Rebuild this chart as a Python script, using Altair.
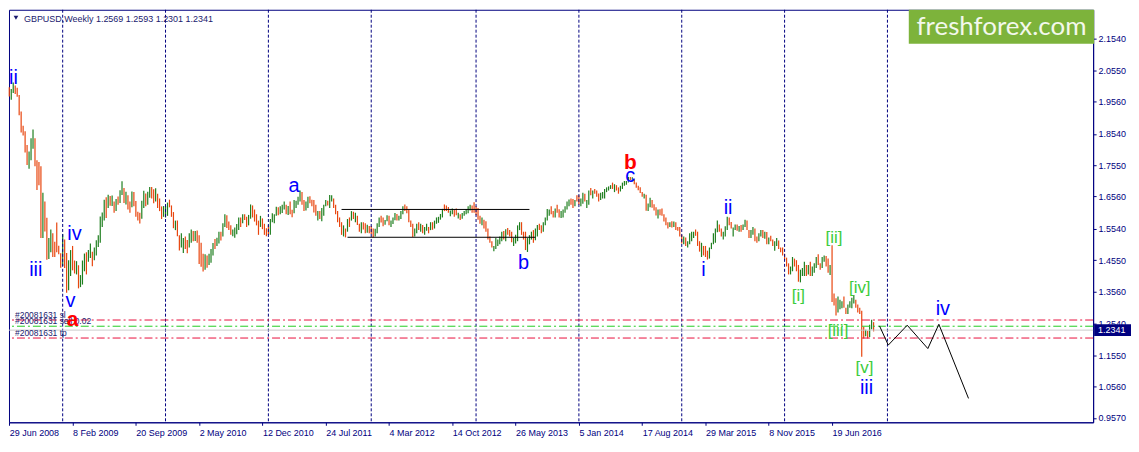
import altair as alt
import pandas as pd

# ---------------- data (weekly GBPUSD bars) ----------------
YEAR_STARTS = ["2008-06-29", "2009-01-04", "2010-01-03", "2011-01-02", "2012-01-01",
               "2013-01-06", "2014-01-05", "2015-01-04", "2016-01-03"]

H08 = [2.001,1.996,2.016,2.007,2.000,1.977,1.925,1.880,1.862,1.819,1.798,1.840,1.868,1.840,
       1.771,1.765,1.752,1.668,1.640,1.589,1.525,1.552,1.540,1.513,1.574,1.501,1.477]
L08 = [1.972,1.962,1.983,1.980,1.971,1.913,1.858,1.849,1.795,1.756,1.744,1.771,1.807,1.752,
       1.677,1.692,1.525,1.525,1.546,1.456,1.459,1.480,1.465,1.465,1.480,1.474,1.431]
D08 = "duudd" "ddddd" "uuudd" "ddudd" "uuddd" "dd"

H09 = [1.537,1.520,1.478,1.455,1.487,1.500,1.454,1.452,1.439,1.408,
       1.454,1.476,1.480,1.487,1.508,1.482,1.495,1.518,1.534,1.593,
       1.606,1.646,1.654,1.662,1.658,1.659,1.640,1.648,1.656,1.676,
       1.704,1.683,1.671,1.660,1.640,1.672,1.670,1.642,1.608,1.605,
       1.643,1.674,1.666,1.671,1.686,1.686,1.679,1.682,1.665,1.650,
       1.625,1.626]
L09 = [1.437,1.430,1.352,1.360,1.405,1.423,1.413,1.410,1.366,1.370,
       1.378,1.420,1.410,1.450,1.462,1.436,1.455,1.470,1.497,1.510,
       1.560,1.580,1.588,1.620,1.627,1.626,1.605,1.610,1.630,1.636,
       1.661,1.636,1.631,1.615,1.605,1.622,1.625,1.592,1.580,1.571,
       1.586,1.620,1.625,1.630,1.652,1.650,1.635,1.640,1.620,1.610,
       1.585,1.592]
D09 = "udduuddudu" "uuduuduuuu" "uududududu" "ududdudddd" "uuduuddudd" "du"

H10 = [1.626,1.637,1.646,1.628,1.607,1.580,1.580,1.534,1.540,1.525,
       1.530,1.519,1.540,1.552,1.547,1.547,1.549,1.534,1.510,1.475,
       1.474,1.470,1.475,1.490,1.509,1.522,1.526,1.545,1.545,1.572,
       1.600,1.597,1.577,1.565,1.552,1.558,1.569,1.590,1.590,1.600,
       1.600,1.592,1.598,1.631,1.628,1.615,1.600,1.580,1.595,1.587,
       1.570,1.556]
L10 = [1.590,1.595,1.622,1.592,1.556,1.550,1.531,1.486,1.495,1.478,
       1.490,1.477,1.495,1.510,1.515,1.516,1.510,1.443,1.434,1.419,
       1.425,1.431,1.440,1.447,1.470,1.490,1.500,1.508,1.517,1.530,
       1.560,1.557,1.550,1.535,1.531,1.526,1.537,1.550,1.560,1.572,
       1.582,1.560,1.565,1.586,1.590,1.577,1.565,1.535,1.560,1.553,
       1.535,1.531]
D10 = "uudddudduu" "dduududddd" "uduuuduudu" "uddduuuudu" "dduuddddud" "dd"

H11 = [1.565,1.585,1.603,1.600,1.624,1.622,1.625,1.630,1.640,1.630,
       1.626,1.640,1.614,1.645,1.643,1.655,1.675,1.670,1.645,1.640,
       1.655,1.657,1.646,1.645,1.630,1.610,1.610,1.620,1.630,1.645,
       1.643,1.661,1.660,1.650,1.630,1.610,1.590,1.575,1.565,1.555,
       1.585,1.590,1.610,1.608,1.605,1.595,1.570,1.575,1.575,1.572,
       1.567,1.563]
L11 = [1.535,1.535,1.575,1.572,1.595,1.597,1.600,1.604,1.615,1.600,
       1.598,1.600,1.591,1.603,1.620,1.630,1.640,1.630,1.610,1.612,
       1.620,1.635,1.625,1.606,1.595,1.580,1.585,1.578,1.595,1.625,
       1.628,1.620,1.640,1.620,1.600,1.575,1.560,1.535,1.530,1.527,
       1.545,1.560,1.580,1.585,1.575,1.566,1.545,1.540,1.552,1.540,
       1.542,1.540]
D11 = "duuuuduuud" "udduuuuddu" "udddduduuu" "duudddddud" "udududdudd" "ud"

H12 = [1.563,1.555,1.554,1.572,1.590,1.595,1.590,1.582,1.597,1.595,
       1.580,1.590,1.604,1.601,1.595,1.610,1.625,1.631,1.625,1.615,
       1.580,1.570,1.555,1.570,1.575,1.570,1.566,1.560,1.570,1.560,
       1.575,1.575,1.580,1.590,1.592,1.601,1.617,1.631,1.628,1.623,
       1.612,1.618,1.615,1.618,1.605,1.600,1.604,1.610,1.617,1.625,
       1.630,1.628,1.638]
L12 = [1.538,1.527,1.530,1.540,1.560,1.574,1.562,1.567,1.578,1.565,
       1.560,1.569,1.581,1.580,1.580,1.585,1.600,1.610,1.603,1.575,
       1.560,1.528,1.530,1.540,1.550,1.545,1.540,1.535,1.548,1.540,
       1.550,1.551,1.555,1.570,1.573,1.583,1.590,1.610,1.610,1.605,
       1.594,1.600,1.592,1.597,1.587,1.582,1.586,1.595,1.600,1.603,
       1.612,1.605,1.605]
D12 = "dduuudduud" "uuuduuuddd" "dduududuud" "uduuuuuddd" "uudduduuuu" "udd"

H13 = [1.625,1.620,1.595,1.590,1.583,1.578,1.555,1.530,1.515,1.500,
       1.525,1.520,1.530,1.545,1.547,1.553,1.557,1.550,1.545,1.525,
       1.535,1.565,1.575,1.575,1.545,1.545,1.525,1.534,1.545,1.550,
       1.555,1.566,1.570,1.565,1.575,1.590,1.617,1.615,1.625,1.610,
       1.618,1.630,1.616,1.610,1.615,1.625,1.640,1.647,1.650,1.648,
       1.645,1.660]
L13 = [1.597,1.583,1.570,1.565,1.555,1.545,1.520,1.510,1.495,1.483,
       1.490,1.500,1.505,1.515,1.520,1.515,1.535,1.530,1.512,1.500,
       1.508,1.515,1.550,1.535,1.520,1.487,1.481,1.505,1.520,1.510,
       1.518,1.530,1.550,1.540,1.545,1.565,1.580,1.595,1.600,1.590,
       1.590,1.605,1.590,1.588,1.590,1.605,1.615,1.625,1.630,1.620,
       1.625,1.640]
D13 = "dddudddddu" "uuuududddu" "uuuddduuud" "uudduuuudd" "udduuuuudd" "ud"

H14 = [1.660,1.650,1.668,1.665,1.645,1.675,1.683,1.675,1.680,1.675,
       1.666,1.668,1.670,1.680,1.685,1.688,1.692,1.700,1.695,1.692,
       1.685,1.690,1.700,1.705,1.705,1.718,1.718,1.717,1.710,1.700,
       1.690,1.685,1.670,1.665,1.662,1.634,1.652,1.645,1.632,1.622,
       1.615,1.616,1.618,1.600,1.590,1.575,1.575,1.578,1.577,1.575,
       1.560,1.560]
L14 = [1.630,1.625,1.633,1.640,1.620,1.630,1.660,1.650,1.665,1.655,
       1.640,1.645,1.650,1.650,1.670,1.675,1.680,1.680,1.670,1.675,
       1.665,1.672,1.680,1.690,1.693,1.700,1.708,1.704,1.695,1.684,
       1.676,1.667,1.655,1.650,1.611,1.610,1.622,1.621,1.612,1.596,
       1.587,1.597,1.595,1.577,1.565,1.555,1.560,1.558,1.560,1.550,
       1.548,1.530]
D14 = "duuduududd" "duuuuuudud" "duuuuududd" "ddduduuddd" "udddddudud" "dd"

H15 = [1.535,1.530,1.527,1.515,1.540,1.545,1.545,1.552,1.545,1.515,
       1.510,1.500,1.500,1.485,1.495,1.510,1.540,1.555,1.580,1.568,
       1.555,1.545,1.562,1.592,1.590,1.576,1.558,1.568,1.568,1.563,
       1.566,1.568,1.583,1.580,1.550,1.550,1.560,1.555,1.530,1.540,
       1.550,1.550,1.545,1.544,1.527,1.532,1.520,1.515,1.525,1.517,
       1.495,1.495]
L15 = [1.508,1.505,1.500,1.495,1.505,1.515,1.525,1.532,1.500,1.482,
       1.465,1.470,1.465,1.457,1.460,1.490,1.505,1.510,1.543,1.545,
       1.530,1.520,1.530,1.550,1.565,1.555,1.530,1.550,1.548,1.545,
       1.545,1.550,1.560,1.550,1.525,1.525,1.535,1.515,1.510,1.515,
       1.530,1.525,1.523,1.505,1.505,1.515,1.500,1.485,1.500,1.490,
       1.480,1.470]
D15 = "duduuuuddd" "uddduuuuud" "duuudduudu" "duudduuddu" "udududduud" "dd"

H16 = [1.475,1.463,1.445,1.435,1.465,1.460,1.455,1.440,1.425,1.430,
       1.450,1.440,1.440,1.450,1.435,1.445,1.465,1.474,1.445,1.465,
       1.470,1.468,1.460,1.440,1.502,1.350,1.335,1.340,1.330,1.325,
       1.340,1.305,1.315,1.325,1.336,1.345,1.330,1.315,1.305,1.295,
       1.245,1.235,1.232,1.251,1.267,1.2593]
L16 = [1.455,1.435,1.410,1.410,1.420,1.435,1.420,1.387,1.385,1.405,
       1.405,1.405,1.410,1.405,1.405,1.415,1.430,1.440,1.425,1.430,
       1.450,1.435,1.415,1.408,1.323,1.312,1.280,1.290,1.300,1.303,
       1.305,1.285,1.285,1.305,1.303,1.318,1.305,1.290,1.285,1.150,
       1.208,1.215,1.208,1.212,1.237,1.2301]
D16 = "ddduuddduu" "ududuuuddu" "udduddduuu" "dduuuudddd" "duduud"

HIGHS = [H08, H09, H10, H11, H12, H13, H14, H15, H16]
LOWS = [L08, L09, L10, L11, L12, L13, L14, L15, L16]
DIRS = [D08, D09, D10, D11, D12, D13, D14, D15, D16]

TITLE = "GBPUSD,Weekly  1.2569 1.2593 1.2301 1.2341"
LAST_PRICE = 1.2341

Y_TICKS = [2.1540, 2.0550, 1.9560, 1.8540, 1.7550, 1.6560, 1.5540, 1.4550,
           1.3560, 1.2540, 1.1550, 1.0560, 0.9570]
X_TICKS = ["2008-06-29", "2009-02-08", "2009-09-20", "2010-05-02", "2010-12-12",
           "2011-07-24", "2012-03-04", "2012-10-14", "2013-05-26", "2014-01-05",
           "2014-08-17", "2015-03-29", "2015-11-08", "2016-06-19"]
SEPARATORS = ["2009-01-04", "2010-01-03", "2011-01-02", "2012-01-01", "2013-01-06",
              "2014-01-05", "2015-01-04", "2016-01-03", "2017-01-01"]

ORDER_NAMES = ["#20081631 sl", "#20081631 sell 0.02", "#20081631 tp"]
ORDER_PRICES = [1.266, 1.2464, 1.2091]

BOX_START = ["2011-09-18", "2011-10-09"]
BOX_END = ["2013-07-14", "2013-08-04"]
BOX_PRICE = [1.6153, 1.5274]

FORECAST_DATES = ["2016-12-04", "2017-01-04", "2017-03-12", "2017-05-24", "2017-07-02", "2017-10-15"]
FORECAST_PRICES = [1.2474, 1.1868, 1.2496, 1.1759, 1.2526, 1.0184]

WAVE_TEXT = ["ii", "iii", "iv", "v", "a", "b", "c", "i", "ii", "iii", "iv"]
WAVE_DATE = ["2008-07-14", "2008-10-01", "2009-02-15", "2009-02-01", "2011-04-03", "2013-06-23",
             "2014-07-06", "2015-03-22", "2015-06-17", "2016-10-19", "2017-07-16"]
WAVE_PRICE = [2.010, 1.404, 1.519, 1.307, 1.671, 1.428, 1.701, 1.404, 1.601, 1.031, 1.283]

RED_TEXT = ["a", "b"]
RED_DATE = ["2009-02-08", "2014-07-06"]
RED_PRICE = [1.2465, 1.7435]

GREEN_TEXT = ["[i]", "[ii]", "[iii]", "[iv]", "[v]"]
GREEN_DATE = ["2016-02-21", "2016-06-26", "2016-07-10", "2016-09-25", "2016-10-12"]
GREEN_PRICE = [1.325, 1.510, 1.216, 1.3526, 1.098]

# ---------------- styling ----------------
W, H = 1088, 414
NAVY = "#000080"
TXT = "#1a1a6e"
UP, DOWN = "#1f7f1f", "#e8460f"
FONT = "Liberation Sans"


def dt(s):
    y, m, d = (int(p) for p in s.split("-"))
    return alt.DateTime(year=y, month=m, date=d, utc=True)


rows = []
for start, hs, ls, ds in zip(YEAR_STARTS, HIGHS, LOWS, DIRS):
    n = min(len(hs), len(ls))
    dates = pd.date_range(start, periods=n, freq="7D")
    for k in range(n):
        d = ds[k] if k < len(ds) else "u"
        rows.append({"date": dates[k].strftime("%Y-%m-%d"), "high": hs[k], "low": ls[k],
                     "dir": "up" if d == "u" else "down"})
bars_df = pd.DataFrame(rows)

xs = alt.Scale(type="utc", domain=[dt("2008-06-28"), dt("2018-12-30")])
ys = alt.Scale(domain=[0.943, 2.246], nice=False, zero=False)

AX_X = alt.Axis(values=[dt(s) for s in X_TICKS],
                labelExpr="utcFormat(datum.value, '%-d %b %Y')",
                labelAlign="left", labelPadding=3, tickSize=3, grid=False, title=None,
                labelFont=FONT, labelFontSize=9, labelColor=NAVY, tickColor=NAVY,
                domainColor=NAVY, labelOverlap=False, labelFlush=False)
AX_Y = alt.Axis(orient="right", values=Y_TICKS, format=".4f", title=None, grid=False,
                tickSize=3, labelPadding=2, labelFont=FONT, labelFontSize=9,
                labelColor=NAVY, tickColor=NAVY, domainColor=NAVY, labelFlush=False,
                labelBaseline="middle")


def X(f):
    return alt.X(f, type="temporal", scale=xs, axis=AX_X)


def Y(f):
    return alt.Y(f, type="quantitative", scale=ys, axis=AX_Y)


one = pd.DataFrame({"k": [0]})

bars = alt.Chart(bars_df).mark_rule(strokeWidth=1.2).encode(
    x=X("date"),
    y=Y("low"),
    y2="high:Q",
    color=alt.Color("dir:N", scale=alt.Scale(domain=["up", "down"], range=[UP, DOWN]), legend=None),
)

grid = alt.Chart(pd.DataFrame({"date": SEPARATORS})).mark_rule(
    color=NAVY, strokeDash=[3, 2], strokeWidth=1).encode(x=X("date"))

levels = []
for price, color, dash in [(ORDER_PRICES[0], "#e8103c", [8, 3, 2, 3]),
                           (ORDER_PRICES[1], "#22cc22", [8, 3, 2, 3]),
                           (LAST_PRICE, "#c8c8c8", [1, 0]),
                           (ORDER_PRICES[2], "#e8103c", [8, 3, 2, 3])]:
    levels.append(alt.Chart(pd.DataFrame({"p": [price]})).mark_rule(
        color=color, strokeDash=dash, strokeWidth=1).encode(y=Y("p")))

order_labels = alt.Chart(pd.DataFrame({"p": ORDER_PRICES, "t": ORDER_NAMES})).mark_text(
    align="left", baseline="alphabetic", dy=-2, font=FONT, fontSize=8.5, color=TXT
).encode(x=alt.value(6), y=Y("p"), text="t:N")

box = alt.Chart(pd.DataFrame({"s": BOX_START, "e": BOX_END, "p": BOX_PRICE})).mark_rule(
    color="black", strokeWidth=1).encode(x=X("s"), x2="e:T", y=Y("p"))

forecast = alt.Chart(pd.DataFrame({"d": FORECAST_DATES, "p": FORECAST_PRICES,
                                   "k": list(range(len(FORECAST_DATES)))})).mark_line(
    color="black", strokeWidth=1).encode(x=X("d"), y=Y("p"), order="k:Q")

blue_lbl = alt.Chart(pd.DataFrame({"d": WAVE_DATE, "p": WAVE_PRICE, "t": WAVE_TEXT})).mark_text(
    align="center", baseline="alphabetic", font=FONT, fontSize=20, color="#0000ff"
).encode(x=X("d"), y=Y("p"), text="t:N")

red_lbl = alt.Chart(pd.DataFrame({"d": RED_DATE, "p": RED_PRICE, "t": RED_TEXT})).mark_text(
    align="center", baseline="alphabetic", font=FONT, fontSize=21, fontWeight="bold", color="#ff0000"
).encode(x=X("d"), y=Y("p"), text="t:N")

green_lbl = alt.Chart(pd.DataFrame({"d": GREEN_DATE, "p": GREEN_PRICE, "t": GREEN_TEXT})).mark_text(
    align="center", baseline="alphabetic", font=FONT, fontSize=17, color="#3ccc3c"
).encode(x=X("d"), y=Y("p"), text="t:N")

title = alt.Chart(pd.DataFrame({"t": [TITLE]})).mark_text(
    align="left", baseline="alphabetic", font=FONT, fontSize=9, color=TXT
).encode(x=alt.value(15), y=alt.value(12), text="t:N")

tri = alt.Chart(one).mark_point(shape="triangle-down", filled=True, size=22, color=TXT, opacity=1).encode(
    x=alt.value(7), y=alt.value(8))

logo_box = alt.Chart(one).mark_rect(color="#7db33b").encode(
    x=alt.value(W - 185), x2=alt.value(W + 1), y=alt.value(0), y2=alt.value(34))
logo_txt = alt.Chart(pd.DataFrame({"t": ["freshforex.com"]})).mark_text(
    align="center", baseline="alphabetic", font="Lato", fontSize=26, color="#f3f8ec"
).encode(x=alt.value(W - 92), y=alt.value(25), text="t:N")

price_box = alt.Chart(pd.DataFrame({"lo": [LAST_PRICE - 0.0185], "hi": [LAST_PRICE + 0.0185]})).mark_rect(
    color=NAVY).encode(x=alt.value(W + 1), x2=alt.value(W + 38), y=Y("lo"), y2="hi:Q")
price_txt = alt.Chart(pd.DataFrame({"p": [LAST_PRICE], "t": [f"{LAST_PRICE:.4f}"]})).mark_text(
    align="left", baseline="middle", font=FONT, fontSize=9, color="white"
).encode(x=alt.value(W + 5), y=Y("p"), text="t:N")

chart = alt.layer(
    bars, grid, *levels, order_labels, box, forecast, blue_lbl, red_lbl, green_lbl,
    title, tri, logo_box, logo_txt, price_box, price_txt
).properties(
    width=W, height=H, padding={"left": 0, "top": 0, "right": 0, "bottom": 0}, background="white"
).configure_view(stroke=NAVY, strokeWidth=1)

chart.save("out.html", embed_options={"renderer": "svg", "actions": False})
